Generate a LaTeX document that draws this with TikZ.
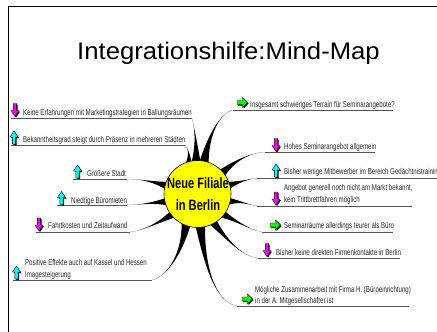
\documentclass[tikz,border=0pt]{standalone}
\usepackage{fontspec}
\setmainfont{Liberation Sans}
\usetikzlibrary{calc}
\definecolor{mag}{RGB}{255,0,255}
\definecolor{cyn}{RGB}{0,255,255}
\definecolor{grn}{RGB}{0,255,0}
\definecolor{sunyellow}{RGB}{255,255,0}
\definecolor{ulinecol}{RGB}{85,85,85}
\tikzset{
  lbl/.style={anchor=base west, inner sep=0pt, font=\fontsize{8.5}{10}\selectfont, xscale=0.72, text=black!85},
  uline/.style={draw=ulinecol, line width=0.9pt},
  icon/.style={draw=black, line width=0.4pt},
  frame/.style={draw=black, line width=1.6pt},
  ctext/.style={font=\bfseries\fontsize{15}{18}\selectfont, xscale=0.74, anchor=base, inner sep=0pt},
}
\newcommand\mmray[5]{%
  \fill[black] ($(cc)+(#1:30)+(#1+90:#5)$) .. controls #2 and #3 .. (#4) .. controls #3 and #2 .. ($(cc)+(#1:30)+(#1-90:#5)$) -- cycle;}
\newcommand\icondown[1]{%
  \begin{scope}[shift={#1}]
    \fill[black] (-0.6,-5.5) -- (2.6,-5.5) -- (2.6,1.5) -- (5,1.5) -- (1,7.5) -- (-3,1.5) -- (-0.6,1.5) -- cycle;
    \filldraw[icon, fill=mag] (-1.6,-6.5) -- (1.6,-6.5) -- (1.6,0.5) -- (4,0.5) -- (0,6.5) -- (-4,0.5) -- (-1.6,0.5) -- cycle;
  \end{scope}}
\newcommand\iconup[1]{%
  \begin{scope}[shift={#1}]
    \fill[black] (-0.6,7.5) -- (2.6,7.5) -- (2.6,0.5) -- (5,0.5) -- (1,-5.5) -- (-3,0.5) -- (-0.6,0.5) -- cycle;
    \filldraw[icon, fill=cyn] (-1.6,6.5) -- (1.6,6.5) -- (1.6,-0.5) -- (4,-0.5) -- (0,-6.5) -- (-4,-0.5) -- (-1.6,-0.5) -- cycle;
  \end{scope}}
\newcommand\iconright[1]{%
  \begin{scope}[shift={#1}]
    \fill[black] (-4,-1) -- (1.5,-1) -- (1.5,-4) -- (6.5,1) -- (1.5,6) -- (1.5,3) -- (-4,3) -- cycle;
    \filldraw[icon, fill=grn] (-5,-2) -- (0.5,-2) -- (0.5,-5) -- (5.5,0) -- (0.5,5) -- (0.5,2) -- (-5,2) -- cycle;
  \end{scope}}
\begin{document}
\begin{tikzpicture}[x=1pt, y=-1pt]
\useasboundingbox (0,0) rectangle (437,332);
% frame
\coordinate (fr1) at (445,6.5);
\coordinate (fr2) at (8.5,6.5);
\coordinate (fr3) at (8.5,340);
\draw[frame] (fr1) -- (fr2) -- (fr3);
% title
\node[font=\fontsize{24}{28}\selectfont, anchor=base, xscale=1.07, inner sep=0pt] (title) at (228.5,59.5) {Integrationshilfe:Mind-Map};
% centre
\coordinate (cc) at (197.5,194);
% underline end points
\coordinate (a1) at (11,118);   \coordinate (b1) at (192,118);
\coordinate (a2) at (11,145);   \coordinate (b2) at (185,145);
\coordinate (a3) at (73,179);   \coordinate (b3) at (127,179);
\coordinate (a4) at (57,205);   \coordinate (b4) at (127,205);
\coordinate (a5) at (36,232);   \coordinate (b5) at (130,232);
\coordinate (a6) at (13,280);   \coordinate (b6) at (152,280);
\coordinate (a7) at (233,110);  \coordinate (b7) at (393,110);
\coordinate (a8) at (265,152);  \coordinate (b8) at (375,152);
\coordinate (a9) at (257,178);  \coordinate (b9) at (440,178);
\coordinate (a10) at (257,206); \coordinate (b10) at (412,206);
\coordinate (a11) at (262,232); \coordinate (b11) at (393,232);
\coordinate (a12) at (258,258); \coordinate (b12) at (400,258);
\coordinate (a13) at (237,306); \coordinate (b13) at (409,306);
\foreach \i in {1,...,13} {\draw[uline] (a\i) -- (b\i);}
% rays
\mmray{-93}{(197,140)}{(194,128)}{b1}{4.8}
\mmray{-108}{(190,155)}{(188,148)}{b2}{4.2}
\mmray{-165}{(155,182)}{(140,179)}{b3}{4.5}
\mmray{165}{(155,202)}{(140,205)}{b4}{4.5}
\mmray{140}{(160,222)}{(145,230)}{b5}{4.5}
\mmray{112}{(183,252)}{(168,276)}{b6}{5}
\mmray{-78}{(208,135)}{(220,113)}{a7}{5}
\mmray{-40}{(235,160)}{(250,153)}{a8}{4.5}
\mmray{-15}{(238,182)}{(250,179)}{a9}{4.5}
\mmray{15}{(238,200)}{(250,205)}{a10}{4.5}
\mmray{40}{(235,220)}{(250,230)}{a11}{4.5}
\mmray{62}{(225,237)}{(240,256)}{a12}{4.5}
\mmray{85}{(204,262)}{(214,302)}{a13}{5}
% centre circle
\node[circle, fill=sunyellow, draw=black, line width=0.6pt, minimum size=67pt, inner sep=0pt] (C) at (cc) {};
\node[ctext] (ct1) at (198,188) {Neue Filiale};
\node[ctext] (ct2) at (198,210) {in Berlin};
% icons
\icondown{(15,110)}
\iconup{(14,137.5)}
\iconup{(77.5,171.5)}
\iconup{(61.5,198)}
\icondown{(39,224.5)}
\iconup{(16.5,272.5)}
\iconright{(242,102.5)}
\icondown{(276,145)}
\iconup{(276,170.5)}
\icondown{(276,198.5)}
\iconright{(275,225)}
\icondown{(267,250)}
\iconright{(247,299)}
% labels
\node[lbl] (t1) at (23,115) {Keine Erfahrungen mit Marketingstrategien in Ballungsräumen};
\node[lbl] (t2) at (23,142) {Bekanntheitsgrad steigt durch Präsenz in mehreren Städten};
\node[lbl] (t3) at (87,176) {Größere Stadt};
\node[lbl] (t4) at (71,203) {Niedrige Büromieten};
\node[lbl] (t5) at (48,228) {Fahrtkosten und Zeitaufwand};
\node[lbl] (t6a) at (25,265) {Positive Effekte auch auf Kassel und Hessen};
\node[lbl] (t6b) at (25,277) {Imagesteigerung};
\node[lbl] (t7) at (250,107) {Insgesamt schwieriges Terrain für Seminarangebote?};
\node[lbl] (t8) at (284,149) {Hohes Seminarangebot allgemein};
\node[lbl] (t9) at (284,174) {Bisher wenige Mitbewerber im Bereich Gedächtnistrainin};
\node[lbl] (t10a) at (284,190) {Angebot generell noch nicht am Markt bekannt,};
\node[lbl] (t10b) at (284,202) {kein Trittbrettfahren möglich};
\node[lbl] (t11) at (284,228) {Seminarräume allerdings teurer als Büro};
\node[lbl] (t12) at (276,255) {Bisher keine direkten Firmenkontakte in Berlin};
\node[lbl] (t13a) at (255,292) {Mögliche Zusammenarbeit mit Firma H. (Büroeinrichtung)};
\node[lbl] (t13b) at (255,303) {in der A. Mitgesellschafter ist};
\end{tikzpicture}
\end{document}
